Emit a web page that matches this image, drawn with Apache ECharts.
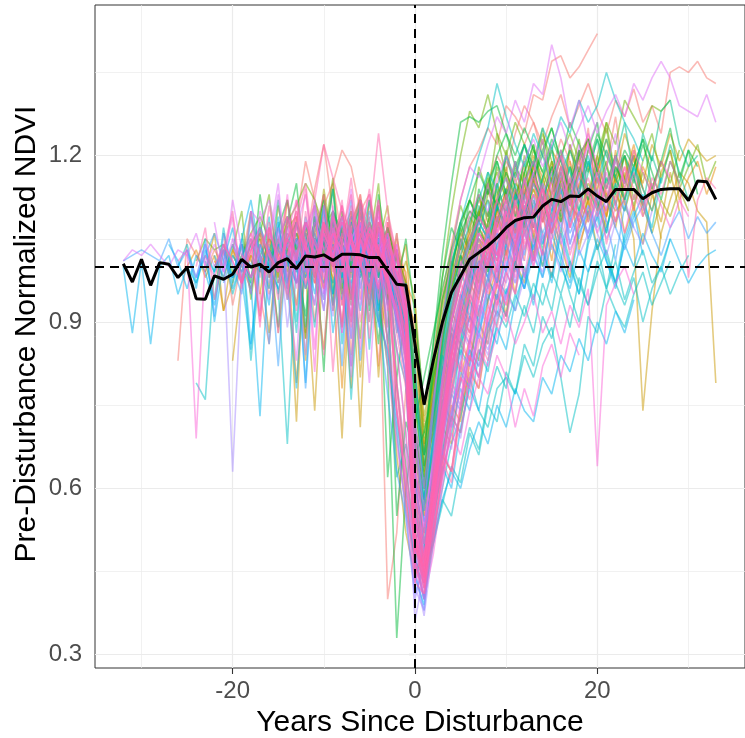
<!DOCTYPE html>
<html>
<head>
<meta charset="utf-8">
<script src="https://cdn.jsdelivr.net/npm/echarts@6/dist/echarts.min.js"></script>
<style>
  html, body { margin: 0; padding: 0; background: #fff; }
  #chart { width: 745px; height: 738px; }
</style>
</head>
<body>
<div id="chart"></div>
<script>
// tick positions
const xTicks = [-20, 0, 20];
const xMinorGrid = [-30, -10, 10, 30];
const yTicks = [0.3, 0.6, 0.9, 1.2];
const yMinorGrid = [0.45, 0.75, 1.05, 1.35];

// mean trajectory, years -32 .. 33
const meanStart = -32;
const meanNdvi = [1.005, 0.972, 1.013, 0.966, 1.007, 1.004, 0.980, 0.998, 0.942, 0.941,
  0.983, 0.977, 0.986, 1.013, 0.999, 1.004, 0.990, 1.007, 1.014, 0.996,
  1.019, 1.017, 1.021, 1.011, 1.022, 1.022, 1.021, 1.016, 1.016, 0.992,
  0.968, 0.966, 0.860, 0.751, 0.830, 0.899, 0.953, 0.983, 1.013, 1.025,
  1.037, 1.052, 1.070, 1.083, 1.088, 1.089, 1.109, 1.121, 1.117, 1.127,
  1.126, 1.140, 1.127, 1.117, 1.139, 1.139, 1.139, 1.122, 1.133, 1.139,
  1.140, 1.140, 1.119, 1.154, 1.153, 1.121];

// individual disturbance tracks: first year of each, then yearly values
const redStarts = [-26, -15, -20, -18, -14, -21, -7];
const redNdvi = [
  [0.83,1.05,1.02,0.99,1.03,1.00,1.04,0.97,1.02,1.06,1.01,1.04,1.00,1.08,1.19,1.12,1.05,1.03,1.07,1.02,0.98,1.04,1.02,0.40,0.52,0.78,
   0.70,0.66,0.84,0.95,1.04,1.12,1.18,1.21,1.25,1.22,1.29,1.27,1.24,1.31,1.30,1.37,1.38,1.34,1.36,1.39,1.42],
  [1.02,1.05,1.08,1.04,1.14,1.22,1.10,1.06,1.09,1.04,1.07,0.99,1.01,0.95,0.88,
   0.62,0.58,0.74,0.88,0.97,1.05,1.10,1.08,1.15,1.20,1.17,1.24,1.29,1.26,1.22,1.27,1.31,1.25,1.29,1.33,1.28,1.24,1.30,1.27,1.32,1.26,1.29,1.24,1.35,1.36,1.35,1.37,1.34,1.33],
  [1.00,0.97,1.03,1.05,0.99,1.02,1.06,1.04,1.08,1.01,1.11,1.15,1.21,1.18,1.10,1.13,1.04,1.02,0.96,0.90,
   0.58,0.52,0.70,0.84,0.93,1.00,1.06,1.03,1.10,1.08,1.14,1.12,1.18],
  [0.98,1.02,0.95,1.00,1.04,0.97,1.03,1.06,1.00,1.05,1.03,0.98,1.06,1.02,1.04,1.00,1.03,0.97,
   0.72,0.60,0.78,0.90,0.98,1.03,1.07,1.12,1.09,1.15,1.19,1.16,1.22,1.26,1.20,1.17,1.23,1.19,1.14,1.21,1.18,1.12,1.16],
  [0.96,1.09,0.88,1.04,1.13,0.97,1.06,0.84,1.10,1.02,0.93,1.08,0.99,0.91,
   0.62,0.55,0.61,0.70,0.78,0.86,0.83,0.92,0.98,0.94,1.03,1.08,1.01,1.12,1.06,0.98,1.10,1.15,1.04,1.09],
  [1.06,0.93,1.01,1.10,0.95,0.86,1.04,1.12,0.99,1.07,0.90,1.03,1.15,1.05,0.94,1.11,1.01,0.82,1.08,0.97,0.85,
   0.54,0.47,0.66,0.73,0.88,0.81,0.95,1.02,0.93,1.07,1.14,1.00,1.12,1.19,1.08,1.16,1.05,1.22,1.13,1.25,1.10,1.18,1.27,1.15],
  [1.08,0.94,1.12,1.01,0.89,1.05,0.98,
   0.88,0.64,0.72,0.82,0.79,0.93,0.90,1.01,0.96,1.08,1.04,0.99,1.11,1.07]
];
const orangeStarts = [-22, -10, -25, -18, -11, -13, -5];
const orangeNdvi = [
  [1.01,0.98,1.03,1.00,0.96,1.02,1.05,0.99,1.03,0.79,1.01,0.97,1.04,1.08,1.02,0.99,1.03,1.03,1.06,1.01,0.98,1.04,
   0.80,0.64,0.70,0.82,0.92,1.00,1.05,1.02,1.08,1.12,1.10,1.15,1.13,1.18,1.11,1.16,1.21,1.14,1.19,1.12,1.17,1.23,1.15,1.20,1.10,1.18,1.14,1.19],
  [1.03,1.00,1.06,1.02,0.98,1.05,1.01,1.07,1.02,0.99,
   0.66,0.55,0.68,0.80,0.90,0.97,1.01,1.05,1.03,1.09,1.06,1.11,1.08,1.14,1.10,1.16,1.12,1.09,1.15,1.18,1.13,1.10,1.16,1.12,1.20,1.14],
  [1.00,1.03,0.98,1.02,0.92,0.97,1.04,1.01,0.99,1.05,1.02,0.98,1.06,1.03,1.00,1.04,1.00,1.02,1.05,0.99,1.03,1.07,1.01,0.97,0.93,
   0.74,0.68,0.76,0.87,0.95,1.02,1.06,1.10,1.07,1.13,1.17,1.12,1.15,1.20,1.16,1.11,1.18,1.14,1.21],
  [1.02,0.91,1.07,0.98,1.12,1.03,0.87,1.05,0.96,1.09,1.00,0.78,1.06,0.95,1.11,1.02,0.90,0.97,
   0.93,0.66,0.71,0.78,0.86,0.92,0.88,0.99,1.05,0.97,1.08,1.03,1.14,1.06,1.10,1.01,1.13,1.19,1.07,1.12,1.16,1.09,1.21,1.11],
  [0.97,1.08,1.00,0.89,1.05,1.13,0.98,1.07,0.94,1.03,0.86,
   0.58,0.52,0.64,0.71,0.68,0.80,0.87,0.83,0.94,1.00,0.91,1.04,1.09,1.02,1.12,1.06],
  [1.04,0.83,1.09,0.97,1.06,0.78,1.02,1.10,0.94,1.05,0.99,0.74,0.58,
   0.47,0.52,0.60,0.67,0.75,0.72,0.83,0.90,0.86,0.97,1.03,0.95,1.08,1.02,1.12,1.06,1.15,1.09,1.18,1.11,1.20,1.13,1.08,1.16,1.22,1.14,1.10,1.17,1.21,1.12,1.16,1.19,1.13,1.18],
  [1.07,0.98,1.04,0.93,0.96,
   0.79,0.67,0.75,0.88,0.98,1.05,1.01,1.10,1.15,1.07,1.13,1.19,1.10,1.16,1.08,1.14,1.20,1.12,1.17,1.23,1.13,1.09,1.18,1.14,1.21,1.11]
];
const tanStarts = [-20, -12, -16, -23, -9, -17];
const tanNdvi = [
  [0.83,0.98,1.02,1.00,1.04,0.97,1.03,1.06,1.00,1.05,1.02,0.98,0.69,1.03,1.06,1.01,1.04,0.99,0.94,0.90,
   0.78,0.66,0.72,0.83,0.92,0.98,1.03,1.07,1.04,1.10,1.08,1.13,1.10,1.07,1.14,1.11,1.08,1.15,1.12,1.09,1.16,1.13,1.10,1.12,1.05,0.74,0.92,1.06,1.12,1.17,1.15,1.10,1.08,0.79],
  [1.01,1.04,0.99,1.06,1.02,1.08,1.03,1.00,1.05,1.02,0.97,0.95,
   0.85,0.72,0.79,0.88,0.96,1.01,1.05,1.09,1.12,1.08,1.14,1.17,1.13,1.19,1.15,1.21,1.18,1.14,1.20,1.23,1.17,1.21,1.16,1.24,1.19,1.15,1.22,1.18,1.24,1.19,1.23,1.21,1.19,1.20],
  [1.02,0.99,1.03,1.06,1.01,0.98,1.04,1.00,1.07,1.03,0.99,1.05,0.80,1.02,0.97,0.92,
   0.70,0.60,0.75,0.88,0.97,1.02,1.00,1.06,1.04,1.09],
  [0.99,1.06,0.92,1.03,0.97,1.10,1.01,0.88,1.05,0.96,1.08,0.99,0.74,1.04,1.09,0.95,1.02,0.71,1.06,0.98,1.03,0.93,0.97,
   0.81,0.63,0.70,0.77,0.85,0.91,0.97,0.94,1.04,1.10,1.02,1.08,1.15,1.05,1.11,1.19,1.08,1.14,1.03,1.10,1.17,1.12,1.07,1.16,1.20,1.09,1.14,1.05],
  [1.04,0.95,1.10,1.01,0.90,1.07,0.99,1.03,0.94,
   0.90,0.71,0.76,0.84,0.92,0.88,0.98,1.05,0.99,1.11,1.04,1.14,1.08,1.16,1.10],
  [0.95,1.06,0.88,1.02,0.72,1.08,0.99,0.85,1.04,0.93,1.07,0.80,1.01,0.96,0.87,0.66,0.52,
   0.44,0.49,0.58,0.66,0.63,0.74,0.81,0.78,0.89,0.95,0.91,1.01,0.97,1.06,1.00,1.09,1.04,0.98,1.07,1.12,1.03,1.09,1.15,1.06,1.11,1.04,1.13,1.08,1.17,1.10]
];
const oliveStarts = [-19, -8, -17, -6];
const oliveNdvi = [
  [1.00,1.04,1.06,0.98,1.03,1.07,1.09,1.02,1.05,1.00,1.08,1.04,1.01,1.06,1.03,0.99,1.05,1.02,0.96,
   0.82,0.70,0.78,0.90,1.00,1.06,1.03,1.10,1.14,1.08,1.12,1.16,1.10,1.14,1.08,1.13,1.17,1.11,1.09,1.15,1.12,1.07,1.13,1.10,1.16,1.11,1.06,1.12,1.09,1.14,1.10],
  [1.04,1.00,1.07,1.02,1.05,0.99,1.03,0.97,
   0.75,0.62,0.80,0.94,1.02,1.08,1.12,1.09,1.15,1.11,1.07,1.13,1.17,1.10,1.14,1.09,1.16,1.12,1.08,1.14,1.11],
  [1.05,0.96,1.11,1.02,0.93,1.08,1.00,1.14,1.04,0.89,1.07,0.99,1.12,1.03,0.95,1.06,0.92,
   0.80,0.68,0.77,0.88,0.96,1.04,0.99,1.10,1.06,1.15,1.09,1.02,1.13,1.18,1.10,1.06,1.16,1.12,1.21,1.08,1.14,1.19,1.11,1.17],
  [1.07,0.97,1.04,1.11,0.95,1.01,
   0.94,0.73,0.81,0.93,1.01,0.97,1.08,1.13,1.05,1.12,1.18,1.09,1.15,1.07]
];
const limeStarts = [-24, -15, -20, -12, -10];
const limeNdvi = [
  [1.01,1.05,1.03,1.04,0.99,1.02,1.06,1.09,1.05,1.03,1.08,1.11,1.15,1.12,1.07,1.10,1.04,1.09,1.06,1.02,1.05,1.00,0.97,0.93,
   0.70,0.60,0.82,0.98,1.10,1.20,1.28,1.25,1.31,1.24,1.20,1.26,1.22,1.18,1.24,1.19,1.15,1.21,1.17,1.12,1.18,1.14,1.20,1.16,1.11,1.17,1.13,1.19,1.15,1.21],
  [1.03,0.99,1.05,1.02,1.08,1.04,1.01,1.06,1.03,1.07,1.00,1.04,1.02,0.98,0.94,
   0.68,0.57,0.72,0.86,0.96,1.04,1.09,1.06,1.13,1.17,1.12,1.18,1.15,1.21,1.17,1.13,1.20,1.24,1.19,1.23,1.18,1.26,1.22,1.30,1.27,1.24,1.29,1.28,1.30],
  [1.03,1.10,0.94,1.06,1.13,0.98,1.09,1.02,0.87,1.11,1.05,1.16,0.97,1.08,1.12,1.01,0.90,1.07,0.99,0.88,
   0.57,0.50,0.63,0.78,0.90,1.02,0.97,1.09,1.16,1.10,1.21,1.14,1.07,1.19,1.25,1.15,1.10,1.22,1.17,1.13,1.20,1.26,1.16,1.12],
  [1.08,1.00,1.13,0.95,1.06,1.10,0.99,1.04,1.15,0.93,1.02,0.97,
   0.87,0.69,0.79,0.91,1.03,1.11,1.06,1.18,1.13,1.24,1.16,1.09,1.20,1.15,1.23,1.11,1.18],
  [1.05,0.93,1.10,1.01,0.87,1.08,0.98,1.04,0.95,0.90,
   0.75,0.62,0.76,0.89,0.99,1.07,1.02,1.13,1.08,1.18,1.12,1.06,1.17,1.22,1.14,1.19,1.10,1.16,1.23,1.13,1.18,1.25,1.15,1.20,1.12,1.19,1.24,1.16,1.21,1.14,1.18,1.22,1.15,1.19]
];
const greenStarts = [-20, -13, -10, -15, -16, -8, -3, -19];
const greenNdvi = [
  [1.02,0.99,1.04,1.07,1.01,1.05,1.09,1.03,1.06,1.00,1.04,1.08,1.02,1.05,0.99,1.03,0.95,0.82,0.33,0.60,
   0.72,0.80,0.88,0.96,1.03,1.08,1.12,1.17,1.13,1.20,1.24,1.18,1.22,1.16,1.21,1.25,1.19,1.14,1.20,1.23,1.17,1.12,1.18,1.15,1.20],
  [1.05,1.01,1.08,1.04,1.10,1.06,1.02,1.09,1.05,1.03,1.07,1.01,0.96,
   0.78,0.64,0.86,1.02,1.15,1.26,1.27,1.26,1.28,1.29,1.24,1.20,1.25,1.21,1.17,1.23,1.19,1.26,1.22,1.18,1.24,1.20,1.16,1.21,1.18,1.23,1.19],
  [1.03,1.07,1.00,1.05,1.02,1.08,1.04,0.62,0.80,0.92,
   0.76,0.66,0.82,0.94,1.01,1.06,1.10,1.08,1.14,1.11,1.17,1.13,1.09,1.15,1.12,1.18,1.14],
  [1.00,1.04,1.08,1.02,1.06,1.12,1.05,1.09,1.03,1.07,1.01,1.05,1.02,0.97,0.91,
   0.70,0.58,0.76,0.90,1.00,1.07,1.12,1.08,1.15,1.19,1.13,1.17,1.22,1.16,1.20,1.25,1.19,1.14,1.21,1.17,1.23,1.18,1.13,1.20,1.16,1.22,1.17,1.12,1.19,1.15,1.21,1.18],
  [0.98,1.07,1.12,1.01,0.91,1.09,1.04,1.14,0.96,1.06,1.11,0.99,1.08,0.94,1.03,0.84,
   0.62,0.56,0.74,0.86,0.99,1.08,1.03,1.14,1.09,1.19,1.13,1.06,1.17,1.22,1.12,1.18,1.09,1.15,1.21],
  [1.10,0.99,1.06,0.92,1.13,1.02,0.96,1.05,
   0.91,0.75,0.86,0.98,1.07,1.03,1.12,1.08,1.17,1.10,1.20,1.14,1.07,1.16],
  [0.97,0.55,0.72,
   0.66,0.70,0.80,0.88,0.95,1.02,0.98,1.07,1.03,1.11,1.06],
  [1.06,0.97,1.13,1.02,0.89,1.08,1.15,0.99,1.05,0.81,1.10,1.03,0.94,1.12,1.01,0.86,1.07,0.79,0.64,
   0.50,0.57,0.66,0.75,0.84,0.93,1.01,0.97,1.08,1.14,1.05,1.12,1.19,1.09,1.16,1.22,1.11,1.18,1.13,1.21,1.26,1.15,1.20,1.12,1.18,1.23,1.14,1.19,1.25,1.16,1.21,1.13]
];
const seaStarts = [-11, -17, -19, -10, -4, -7];
const seaNdvi = [
  [1.02,1.06,1.01,1.04,1.08,1.03,1.00,1.05,1.02,0.97,0.94,
   0.80,0.66,0.74,0.85,0.94,1.00,1.05,1.09,1.06,1.12,1.16,1.11,1.15,1.19,1.14,1.10,1.17,1.21,1.16,1.12,1.18,1.23,1.17,1.20,1.15,1.24,1.19,1.28,1.30,1.22,1.18,1.20],
  [0.99,1.03,1.00,1.05,1.02,0.98,1.04,1.07,1.01,1.05,1.03,0.99,1.06,1.02,1.04,0.98,0.88,
   0.55,0.48,0.62,0.78,0.90,0.98,1.04,1.08,1.05,1.11,1.14,1.09,1.13,1.17,1.12,1.08,1.15,1.11,1.18,1.14,1.10,1.16,1.13],
  [1.04,0.95,1.08,1.00,1.12,0.97,1.05,0.89,1.09,1.02,1.14,0.99,0.93,1.07,1.01,1.11,0.96,1.03,0.90,
   0.68,0.58,0.67,0.79,0.88,0.84,0.95,1.03,0.98,1.09,1.04,1.13,1.07,1.01,1.12,1.17,1.08,1.14,1.10,1.19,1.12,1.06,1.15],
  [1.01,1.09,0.94,1.05,1.12,0.98,1.07,0.86,1.02,0.95,
   0.76,0.61,0.72,0.84,0.80,0.91,0.99,0.95,1.06,1.01,1.11,1.05,1.16,1.09,1.03,1.13],
  [1.03,0.93,0.62,0.68,
   0.59,0.64,0.73,0.81,0.89,0.86,0.96,1.03,0.99,1.08],
  [1.03,1.11,0.96,1.07,1.01,0.94,0.89,
   0.72,0.60,0.73,0.86,0.97,1.05,1.00,1.11,1.06,1.15,1.09,1.19,1.12,1.07,1.16,1.21,1.13,1.18,1.10,1.17,1.23,1.14,1.19,1.26,1.16,1.11,1.20,1.15,1.22,1.17,1.12]
];
const cyanStarts = [-26, -24, -14, -6, -23, -15, -7, -12, -9];
const cyanNdvi = [
  [1.00,1.04,0.97,1.02,0.99,1.03,0.95,1.01,0.98,1.04,1.00,0.96,0.68,1.02,0.99,1.05,1.01,0.97,1.03,0.99,1.04,1.00,0.96,1.01,0.93,0.85,
   0.50,0.44,0.52,0.60,0.68,0.73,0.80,0.74,0.71,0.78,0.80,0.77,0.84,0.80,0.86,0.89,0.80,0.70,0.77,0.91,0.88,0.96,0.92,0.89,0.95,0.99,0.93,0.97,1.01],
  [0.79,0.76,1.00,1.03,0.98,1.02,1.05,0.99,1.03,1.07,1.01,0.97,1.04,1.00,1.06,1.02,0.98,1.05,1.01,1.04,0.99,1.02,0.96,0.90,
   0.62,0.50,0.58,0.66,0.74,0.79,0.85,0.82,0.88,0.92,0.89,0.95,0.91,0.97,0.93,0.99,0.95,1.01,0.97,0.93,0.99,1.03,0.97,0.93,0.98,0.90,0.96,1.00,0.95,0.99,1.02],
  [1.01,1.05,1.02,1.08,1.04,1.00,1.06,1.03,1.09,1.05,1.01,1.04,0.98,0.92,
   0.66,0.56,0.75,0.90,1.00,1.08,1.14,1.20,1.25,1.33,1.27,1.22,1.18,1.24,1.20,1.15,1.21,1.17,1.13,1.19,1.15,1.21,1.16,1.12,1.18,1.14,1.10,1.16],
  [1.04,1.01,1.06,1.02,0.97,0.90,
   0.60,0.52,0.70,0.84,0.95,1.02,1.08,1.12,1.17,1.14,1.20,1.16,1.22,1.18,1.25,1.21,1.27,1.24,1.30,1.26,1.29,1.35,1.30,1.26,1.23,1.19],
  [1.01,0.94,1.07,0.97,1.04,0.83,1.00,1.09,0.95,1.03,0.88,1.06,0.98,1.11,0.92,1.02,0.96,1.08,0.85,1.04,0.99,0.93,0.87,
   0.52,0.45,0.50,0.57,0.64,0.61,0.70,0.66,0.75,0.72,0.81,0.77,0.86,0.82,0.91,0.87,0.95,0.89,0.98,0.93,1.01,0.96,1.04],
  [0.97,1.05,0.90,1.08,1.00,0.94,1.10,0.86,1.03,0.98,1.07,0.92,1.04,0.96,0.89,
   0.63,0.54,0.58,0.66,0.73,0.70,0.79,0.85,0.81,0.90,0.96,0.92,1.00,0.94,1.03,0.98,1.07,1.01,0.95,1.05,1.10,1.02,0.97,1.06],
  [0.99,1.08,0.93,1.04,0.97,0.85,0.79,
   0.56,0.49,0.62,0.76,0.72,0.87,0.94,0.90,1.01,0.97,1.08,1.03],
  [1.01,0.89,1.07,0.95,1.04,0.76,1.00,1.09,0.92,0.84,0.70,0.56,
   0.47,0.44,0.51,0.58,0.55,0.64,0.71,0.67,0.76,0.82,0.78,0.87,0.93,0.88,0.97,0.92,1.01,0.95,0.90,0.99,1.04,0.96,1.01,0.94,0.99,1.03,0.97,1.00,1.05],
  [1.00,1.08,0.95,1.04,1.12,0.98,1.06,0.93,0.87,
   0.68,0.57,0.69,0.81,0.92,0.99,0.95,1.06,1.12,1.03,1.09,1.15,1.07,1.13,1.04,1.10,1.17,1.08,1.14,1.20,1.11,1.06,1.15,1.10,1.18,1.12,1.07,1.16]
];
const skyStarts = [-32, -27, -22, -11, -25, -13, -5, -20];
const skyNdvi = [
  [1.00,0.88,1.01,0.86,1.00,1.02,0.95,1.00,0.97,1.03,0.99,1.04,0.96,1.01,0.98,1.03,1.00,0.96,1.02,0.99,1.05,1.01,0.97,1.03,1.00,1.04,0.98,1.02,1.06,1.00,0.94,0.86,
   0.58,0.46,0.62,0.76,0.86,0.93,0.98,1.03,1.00,1.06,1.04],
  [1.04,1.01,0.96,1.02,0.99,0.93,1.03,0.98,1.05,1.12,1.02,0.99,1.04,1.01,0.97,1.03,1.00,1.06,1.02,0.98,1.04,1.01,0.97,1.03,0.99,0.94,0.88,
   0.55,0.45,0.58,0.70,0.80,0.86,0.91,0.88,0.94,0.98,0.95,1.00,0.96,1.02,0.98,1.04,1.00,0.96,1.03,0.99,1.05,1.01,0.97,1.04,1.00,1.06,1.02,0.99,1.05,1.01,0.97,1.00,1.02,1.03],
  [1.02,0.98,1.04,1.00,0.97,0.73,1.03,0.99,1.05,1.01,0.96,1.02,0.99,1.04,1.00,0.97,1.03,0.99,1.02,0.96,0.91,0.84,
   0.48,0.40,0.50,0.58,0.63,0.60,0.67,0.72,0.68,0.75,0.71,0.78,0.74,0.72,0.80,0.77,0.84,0.81,0.87,0.83,0.90,0.86,0.92,0.88,0.94],
  [1.04,1.00,1.06,1.02,1.08,1.03,0.99,1.05,1.01,0.96,0.89,
   0.54,0.47,0.66,0.82,0.93,1.00,1.04,1.08,1.05,1.11,1.07,1.13,1.09,1.15,1.11],
  [1.03,0.96,1.05,0.90,1.01,1.07,0.98,0.85,1.04,0.99,1.09,0.94,1.02,0.79,1.06,1.00,0.95,1.08,1.01,0.92,1.05,0.98,1.03,0.91,0.84,
   0.49,0.43,0.55,0.64,0.60,0.71,0.78,0.74,0.83,0.89,0.85,0.94,0.99,0.93,1.03,0.97,1.06,1.00,0.95,1.04,1.09,1.01,0.96,1.05,1.10,1.02],
  [1.06,0.96,1.02,1.11,0.93,1.04,0.87,1.08,1.00,0.95,1.05,0.90,0.80,
   0.44,0.39,0.52,0.66,0.77,0.85,0.82,0.92,0.98,0.94,1.04,1.00,1.09,1.03,1.12,1.06,1.01,1.10],
  [1.02,0.92,1.06,0.88,0.97,
   0.82,0.58,0.68,0.79,0.88,0.95,0.91,1.00,1.06,0.99,1.04],
  [0.98,1.05,0.86,1.01,0.93,1.08,0.97,0.78,1.03,0.95,1.06,0.88,1.00,0.82,1.04,0.96,0.90,0.85,0.72,0.60,
   0.46,0.43,0.55,0.63,0.70,0.78,0.74,0.84,0.90,0.86,0.95,1.01,0.96,1.05,1.00,1.08,1.02,0.97,1.06,1.10,1.03,1.07,1.12,1.04,1.09,1.13,1.06]
];
const blueStarts = [-32, -21, -16, -9, -5, -24, -14, -10, -8];
const blueNdvi = [
  [1.01,1.02,1.03,1.02,1.01,1.05,1.00,1.03,0.98,1.02,1.06,1.01,0.98,1.04,1.00,1.07,1.03,0.99,1.05,1.02,0.98,1.04,1.01,1.06,1.03,0.99,1.05,1.02,0.97,1.03,0.98,0.93,
   0.62,0.48,0.64,0.80,0.90,0.97,1.02,0.99,1.05,1.02,1.07,1.04,1.09],
  [0.97,1.02,0.99,1.04,1.01,0.96,1.03,1.00,1.05,0.78,1.02,0.99,1.04,1.01,1.06,1.03,0.99,1.02,0.97,0.92,0.86,
   0.56,0.44,0.60,0.74,0.84,0.92,0.97,1.01,0.98,1.04,1.07,1.02,1.06,1.09,1.04,1.08,1.11,1.06,1.10,1.05,1.09,1.12,1.07,1.03,1.08,1.11,1.06,1.02,1.07,1.10,1.05,1.09,1.06,1.08],
  [1.03,0.82,1.06,1.02,1.08,1.04,1.00,1.06,1.02,1.09,1.05,1.01,1.04,0.98,0.90,0.80,
   0.52,0.42,0.56,0.70,0.82,0.90,0.96,1.01,0.98,1.04,1.08,1.03,1.07,1.11,1.06,1.10,1.14,1.09,1.05,1.11,1.07],
  [1.05,1.01,1.07,1.03,1.10,1.04,1.00,0.95,0.88,
   0.45,0.38,0.55,0.72,0.85,0.94,1.00,1.05,1.02,1.08,1.12,1.07,1.13,1.09,1.15,1.11,1.07,1.13,1.16],
  [1.02,1.06,1.01,0.95,0.86,
   0.48,0.40,0.58,0.74,0.86,0.94,0.99,1.04,1.01,1.06,1.03],
  [0.98,1.04,0.91,1.06,1.00,0.95,1.09,1.02,0.86,1.05,0.97,1.08,1.01,0.93,1.10,1.03,0.82,1.06,0.99,1.04,0.94,1.02,0.90,0.83,
   0.47,0.40,0.53,0.68,0.80,0.89,0.86,0.96,1.02,0.97,1.07,1.01,1.11,1.05,0.98,1.09,1.14,1.04,1.10,1.06,1.13,1.08,1.01,1.11,1.07],
  [1.04,0.97,1.09,1.02,0.92,1.07,1.00,1.12,0.96,1.05,0.89,1.03,0.98,0.92,
   0.61,0.50,0.63,0.74,0.71,0.83,0.91,0.87,0.97,1.03,0.99,1.08,1.02,1.12,1.05,1.09],
  [0.95,1.06,1.01,0.90,1.08,0.97,1.04,0.93,1.00,0.96,
   0.70,0.54,0.60,0.69,0.77,0.74,0.85,0.80,0.89,0.95,0.91,1.00,0.96,1.04],
  [0.94,1.06,0.83,1.00,0.91,0.77,0.63,0.55,
   0.41,0.46,0.56,0.65,0.73,0.81,0.78,0.89,0.95,0.91,1.00,1.06,0.98,1.04]
];
const periStarts = [-25, -12, -7, -20, -9, -15];
const periNdvi = [
  [1.02,0.98,1.04,1.00,1.03,0.63,0.99,1.05,1.01,0.97,1.03,1.07,1.02,0.99,1.05,1.01,1.06,1.03,0.98,1.04,1.00,1.05,0.97,0.85,0.70,
   0.36,0.45,0.60,0.72,0.82,0.88,0.93,0.90,0.96,1.00,0.97,1.03,1.06,1.01,1.05,1.09,1.04,1.08,1.02,1.06,1.10,1.05,1.09],
  [1.04,1.00,1.06,1.02,0.97,1.03,1.08,1.04,1.00,1.05,0.99,0.94,
   0.60,0.50,0.62,0.74,0.80,0.84,0.82,0.88,0.85,0.91,0.95,0.92,0.98,1.02,0.99,1.05,1.08,1.03,1.07,1.11,1.06,1.02,1.08,1.12,1.07,1.04,1.10],
  [1.03,1.07,1.02,1.05,0.98,0.91,0.84,
   0.42,0.38,0.55,0.70,0.82,0.90,0.95,0.92,0.98,1.03,0.99,1.05,1.01],
  [1.05,0.97,1.10,1.01,0.94,1.07,0.89,1.03,0.99,1.12,0.95,1.06,1.01,0.91,1.08,1.02,0.96,1.04,0.93,0.87,
   0.58,0.48,0.56,0.65,0.74,0.82,0.79,0.90,0.86,0.95,1.01,0.97,1.06,1.02,1.10,1.04,0.99,1.08,1.13,1.05],
  [1.02,1.09,0.96,1.05,0.90,1.07,0.99,1.03,0.88,
   0.45,0.37,0.50,0.62,0.72,0.69,0.80,0.88,0.84,0.93,0.99,0.95,1.04],
  [1.07,0.96,1.03,0.84,1.10,0.99,0.91,1.05,0.80,1.01,0.94,1.08,0.86,0.70,0.55,
   0.40,0.47,0.57,0.68,0.78,0.75,0.86,0.93,0.89,0.99,1.05,0.97,1.03,1.09,1.01,1.07,1.12,1.04,1.10,1.06,1.14,1.08]
];
const violetStarts = [-32, -18, -10, -22, -12, -4, -18];
const violetNdvi = [
  [1.01,1.03,1.02,1.04,1.02,1.00,1.03,1.02,1.06,1.00,1.04,0.99,1.05,1.02,0.98,1.03,1.07,1.01,1.04,1.00,0.97,1.03,0.99,1.05,1.08,1.02,1.06,1.03,1.00,1.04,0.97,0.92,
   0.64,0.52,0.66,0.80,0.90,0.97,1.02,1.06,1.03],
  [1.10,1.08,1.12,1.05,1.09,1.04,1.07,1.11,1.03,1.06,1.01,1.05,1.08,1.02,1.04,0.99,1.01,0.95,
   0.70,0.56,0.74,0.90,1.02,1.12,1.18,1.16,1.22,1.27,1.24,1.30,1.26,1.33,1.31,1.40,1.34,1.25,1.30,1.22,1.26],
  [1.06,1.02,1.09,1.04,1.00,1.07,1.03,1.05,0.98,0.93,
   0.72,0.60,0.76,0.88,0.97,1.04,1.09,1.13,1.10,1.16,1.20,1.15,1.19,1.23,1.18,1.22,1.26,1.21,1.25,1.29,1.24,1.28,1.31,1.27,1.33,1.30,1.34,1.37,1.34,1.29,1.28,1.27,1.31,1.26],
  [1.08,0.99,1.12,1.03,0.95,1.10,1.05,1.15,0.98,1.07,1.13,1.01,0.92,1.09,1.04,0.87,1.11,1.02,0.96,1.06,0.99,0.91,
   0.64,0.53,0.65,0.78,0.90,1.01,0.96,1.08,1.15,1.06,1.12,1.19,1.10,1.17,1.23,1.13,1.20,1.09,1.16,1.22,1.12,1.18,1.24,1.14,1.20],
  [1.03,1.11,0.95,1.07,1.00,1.14,0.93,1.05,1.10,0.98,1.04,0.90,
   0.55,0.46,0.58,0.70,0.67,0.79,0.86,0.82,0.92,0.98,0.94,1.03,1.09,1.00,1.06],
  [1.09,1.01,0.95,0.86,
   0.47,0.41,0.56,0.71,0.84,0.93,1.00,0.96,1.07,1.02,1.10],
  [1.10,0.92,1.04,1.13,0.97,0.83,1.08,1.01,0.94,1.11,0.88,1.06,0.98,0.79,1.03,0.90,0.74,0.60,
   0.48,0.54,0.64,0.74,0.84,0.92,0.88,0.99,1.06,1.00,1.11,1.05,1.16,1.09,1.14,1.07,1.18,1.11,1.22,1.13,1.17,1.10,1.20,1.15]
];
const magentaStarts = [-26, -20, -14, -8, -13, -21, -15, -11, -6, -16, -9];
const magentaNdvi = [
  [1.01,1.03,0.69,1.02,0.98,1.04,1.01,0.97,1.03,1.07,1.02,0.99,1.05,1.01,1.08,1.04,1.00,1.06,1.03,0.99,1.05,1.02,1.06,0.98,0.92,0.85,
   0.55,0.43,0.58,0.72,0.84,0.92,0.98,1.03,1.00,1.06,1.10,1.05,1.09,1.13,1.08,1.12,1.16,1.10,1.14,1.08,1.12,1.17,1.11,1.06,1.13,1.09,1.15,1.11,1.07,1.12,1.09],
  [1.04,1.00,1.06,1.02,0.98,1.05,1.01,1.08,1.03,1.00,1.06,1.02,0.99,1.05,1.01,1.07,1.03,0.98,0.90,0.80,
   0.50,0.42,0.55,0.66,0.74,0.80,0.78,0.85,0.82,0.88,0.92,0.86,0.90,0.95,0.88,0.92,0.86,0.93,0.89,0.96,0.64,0.93,0.97,1.00,0.95],
  [1.02,1.07,1.03,0.99,1.05,1.01,1.08,1.04,1.00,1.06,1.02,0.97,0.91,0.84,
   0.48,0.43,0.52,0.62,0.70,0.66,0.74,0.80,0.77,0.84,0.80,0.71,0.78,0.73,0.82,0.86,0.80,0.88,0.84],
  [1.05,1.01,1.07,1.03,1.09,1.04,0.99,0.93,
   0.52,0.45,0.62,0.78,0.90,0.98,1.04,1.09,1.06,1.12,1.16,1.11,1.15,1.19,1.13,1.17,1.21,1.15,1.19,1.24,1.18,1.14,1.20],
  [1.05,1.01,1.08,1.03,1.00,1.06,1.02,1.09,1.04,1.00,1.06,0.99,0.93,
   0.62,0.48,0.60,0.74,0.86,0.95,1.01,1.06,1.03,1.09,1.13,1.08,1.12,1.17,1.11,1.15,1.20,1.14,1.18,1.22,1.16,1.12,1.19,1.15,1.21,1.17,1.13,1.19,1.16],
  [1.02,1.09,0.96,1.05,0.90,1.07,1.00,1.13,0.97,1.04,0.85,1.08,1.01,1.11,0.94,1.05,0.99,1.10,0.92,1.03,0.89,
   0.51,0.44,0.55,0.67,0.63,0.76,0.84,0.80,0.91,0.97,0.93,1.03,0.98,1.08,1.02,1.12,1.05,0.99,1.09,1.14,1.06,1.11],
  [0.97,1.06,1.12,1.00,0.93,1.08,1.03,0.88,1.10,1.01,0.96,1.07,0.98,0.92,0.85,
   0.46,0.40,0.48,0.60,0.72,0.83,0.79,0.90,0.97,0.93,1.02,0.98,1.07,1.01,1.11,1.04],
  [1.05,0.98,1.10,1.02,0.91,1.06,1.13,1.00,0.95,1.04,0.81,
   0.52,0.45,0.57,0.69,0.81,0.90,0.86,0.96,1.03,0.99,1.09,1.04,1.12,1.07],
  [1.01,1.08,0.94,1.03,0.74,0.62,
   0.49,0.52,0.61,0.73,0.85,0.93,0.89,0.99,1.05,1.01,1.10],
  [1.02,0.88,1.09,0.96,1.05,0.81,1.11,1.00,0.93,1.07,0.85,1.03,0.97,0.82,0.68,0.57,
   0.43,0.48,0.58,0.69,0.79,0.76,0.87,0.94,0.90,1.00,1.07,1.01,1.10,1.04,1.13,1.06,1.11,1.16,1.08],
  [1.09,0.95,0.82,1.05,0.99,1.12,0.93,0.79,0.66,
   0.55,0.47,0.59,0.70,0.81,0.89,0.85,0.95,1.02,0.98,1.07,1.03,1.10]
];
const pinkStarts = [-22, -16, -12, -6, -19, -9, -24, -18, -14, -10, -8, -5, -16, -3, -14, -11, -7];
const pinkNdvi = [
  [1.00,1.04,1.01,0.97,1.03,1.06,1.02,0.99,1.05,1.02,1.08,1.04,1.01,1.06,1.03,0.99,1.05,1.08,1.03,1.00,0.95,0.88,
   0.56,0.46,0.64,0.80,0.92,1.00,1.05,1.09,1.06,1.12,1.08,1.14,1.10,1.16,1.12,1.08,1.15,1.11,1.17,1.13,1.09,1.15,1.12,1.18,1.14,1.10,1.16,1.13,1.19,1.15,0.98,1.12,1.16,1.14],
  [1.03,0.99,1.05,1.10,1.04,1.00,1.07,1.03,1.09,1.05,1.01,1.06,1.02,0.98,0.92,0.82,
   0.46,0.41,0.50,0.64,0.78,0.88,0.95,1.00,1.04,1.01,1.07,1.11,1.06,1.10,1.14,1.09,1.13,1.07,1.12,1.16,1.10,1.14,1.08,1.13,1.17,1.11,1.15],
  [1.06,1.02,1.08,1.04,1.11,1.05,1.01,1.07,1.03,1.09,1.02,0.96,
   0.60,0.44,0.58,0.72,0.84,0.93,0.99,1.04,1.01,1.08,1.12,1.06,1.10,1.15,1.09,1.13,1.18,1.12,1.08,1.14,1.11],
  [1.06,1.02,1.08,1.04,0.99,0.94,
   0.58,0.47,0.62,0.78,0.90,0.97,1.02,1.06,1.03,1.09,1.05,1.11,1.07,1.13,1.10],
  [1.02,0.98,1.04,1.07,1.01,1.05,1.09,1.03,1.12,1.22,1.16,1.10,1.06,1.12,1.08,1.24,1.10,1.02,0.90,
   0.50,0.42,0.56,0.70,0.82,0.90,0.96,1.00,1.05,1.02,1.08,1.04,1.10,1.06,1.12,1.08,1.14],
  [1.03,1.08,1.04,1.00,1.06,1.02,0.97,0.88,0.78,
   0.50,0.45,0.60,0.75,0.87,0.95,1.00,1.05,1.02,1.08,1.04,1.10,1.06],
  [1.00,1.07,0.94,1.03,1.10,0.97,1.05,0.89,1.08,1.01,0.95,1.12,1.04,0.98,1.09,0.92,1.06,1.13,1.00,0.96,1.07,1.02,0.93,0.86,
   0.50,0.43,0.57,0.70,0.82,0.91,0.87,0.98,1.05,1.00,1.10,1.04,1.14,1.08,1.02,1.12,1.17,1.07,1.13,1.09,1.16,1.04,1.11,1.18,1.10],
  [1.06,0.98,1.11,1.02,0.94,1.08,1.15,1.01,0.96,1.09,1.04,0.90,1.12,1.05,0.99,1.07,0.95,0.88,
   0.47,0.42,0.51,0.63,0.76,0.87,0.83,0.94,1.01,0.96,1.06,1.12,1.03,1.09,1.15,1.06,1.11,1.02,1.08],
  [1.02,1.10,0.96,1.06,1.13,0.99,1.04,1.16,1.01,0.93,1.08,1.03,0.97,0.90,
   0.52,0.44,0.53,0.65,0.61,0.74,0.82,0.78,0.88,0.94,0.90,1.00,1.06,1.01,1.10],
  [1.08,1.00,1.12,0.95,1.05,1.14,1.02,0.97,1.06,0.92,
   0.43,0.41,0.55,0.68,0.80,0.89,0.95,0.91,1.01,1.07,1.02,1.12],
  [0.99,1.07,1.13,1.02,0.96,1.08,1.01,0.94,
   0.66,0.46,0.60,0.73,0.85,0.81,0.93,0.99,0.95,1.05,1.01,1.09,1.04],
  [1.04,1.12,0.98,0.79,0.58,
   0.45,0.48,0.59,0.72,0.84,0.92,0.88,0.97,1.03,0.99],
  [1.03,0.94,1.09,1.01,1.14,0.97,1.06,1.02,0.90,1.11,1.05,0.99,1.08,1.03,0.96,0.91,
   0.70,0.50,0.58,0.70,0.83,0.94,0.90,1.01,1.07,1.02,1.12,1.06,1.16,1.09,1.14,1.05,1.12],
  [1.05,0.98,0.83,
   0.54,0.45,0.61,0.76,0.88,0.97,0.93,1.04,1.00,1.08],
  [1.05,0.92,1.10,0.99,0.84,1.07,1.01,0.89,1.12,0.95,1.03,0.86,0.74,0.61,
   0.49,0.46,0.55,0.64,0.73,0.70,0.80,0.87,0.83,0.93,0.99,0.95,1.05,1.00,1.09,1.03],
  [0.97,1.08,0.81,1.02,0.93,1.10,0.87,1.04,0.96,0.78,0.63,
   0.52,0.44,0.52,0.62,0.71,0.80,0.76,0.86,0.93,0.89,0.98,1.04,0.99],
  [1.06,0.90,1.02,1.11,0.97,0.85,0.70,
   0.51,0.43,0.54,0.66,0.63,0.75,0.84,0.80,0.91,0.97,0.93,1.02]
];

// hue palette, drawn in this order (pink ends up on top)
const groups = [
  { color: '#F8766D', starts: redStarts, ndvi: redNdvi },
  { color: '#E58700', starts: orangeStarts, ndvi: orangeNdvi },
  { color: '#C99800', starts: tanStarts, ndvi: tanNdvi },
  { color: '#A3A500', starts: oliveStarts, ndvi: oliveNdvi },
  { color: '#6BB100', starts: limeStarts, ndvi: limeNdvi },
  { color: '#00BA38', starts: greenStarts, ndvi: greenNdvi },
  { color: '#00C08B', starts: seaStarts, ndvi: seaNdvi },
  { color: '#00BFC4', starts: cyanStarts, ndvi: cyanNdvi },
  { color: '#00B4EF', starts: skyStarts, ndvi: skyNdvi },
  { color: '#35A2FF', starts: blueStarts, ndvi: blueNdvi },
  { color: '#A58AFF', starts: periStarts, ndvi: periNdvi },
  { color: '#DF70F8', starts: violetStarts, ndvi: violetNdvi },
  { color: '#FB61D7', starts: magentaStarts, ndvi: magentaNdvi },
  { color: '#FF65AC', starts: pinkStarts, ndvi: pinkNdvi }
];

const FONT = '"Liberation Sans", Arial, Helvetica, sans-serif';
const GRID_COL = '#EBEBEB';

const series = [];

// grid lines (major + minor) drawn under everything
const gridMarks = [];
xTicks.forEach(v => gridMarks.push({ xAxis: v, lineStyle: { color: GRID_COL, width: 1.2, type: 'solid' } }));
xMinorGrid.forEach(v => gridMarks.push({ xAxis: v, lineStyle: { color: GRID_COL, width: 0.7, type: 'solid' } }));
yTicks.forEach(v => gridMarks.push({ yAxis: v, lineStyle: { color: GRID_COL, width: 1.2, type: 'solid' } }));
yMinorGrid.forEach(v => gridMarks.push({ yAxis: v, lineStyle: { color: GRID_COL, width: 0.7, type: 'solid' } }));
series.push({
  type: 'line', data: [], silent: true, z: 1,
  markLine: { z: 1, symbol: 'none', silent: true, animation: false, label: { show: false }, data: gridMarks }
});

groups.forEach(g => {
  g.starts.forEach((start, k) => {
    series.push({
      type: 'line',
      data: g.ndvi[k].map((v, i) => [start + i, v]),
      symbol: 'none',
      silent: true,
      z: 2,
      lineStyle: { color: g.color, width: 1.6, opacity: 0.5 }
    });
  });
});

// reference lines at disturbance year and NDVI = 1
series.push({
  type: 'line', data: [], silent: true, z: 3,
  markLine: {
    z: 3, symbol: 'none', silent: true, animation: false, label: { show: false },
    lineStyle: { color: '#000', width: 2, type: [9, 6] },
    data: [{ xAxis: 0 }, { yAxis: 1.0 }]
  }
});

series.push({
  type: 'line',
  data: meanNdvi.map((v, i) => [meanStart + i, v]),
  symbol: 'none',
  silent: true,
  z: 4,
  lineStyle: { color: '#000', width: 3 }
});

const chart = echarts.init(document.getElementById('chart'), null, { renderer: 'canvas' });
chart.setOption({
  animation: false,
  backgroundColor: '#fff',
  grid: { left: 95, top: 5, width: 650, height: 663, show: true, borderColor: '#333', borderWidth: 1, backgroundColor: '#fff' },
  xAxis: {
    type: 'value', min: -35.1, max: 36.2,
    axisLine: { show: false },
    splitLine: { show: false },
    axisTick: { show: true, customValues: xTicks, length: 6, lineStyle: { color: '#333', width: 1.1 } },
    axisLabel: { customValues: xTicks, color: '#4D4D4D', fontSize: 24, margin: 11, fontFamily: FONT }
  },
  yAxis: {
    type: 'value', min: 0.276, max: 1.4715,
    axisLine: { show: false },
    splitLine: { show: false },
    axisTick: { show: true, customValues: yTicks, length: 6, lineStyle: { color: '#333', width: 1.1 } },
    axisLabel: { customValues: yTicks, color: '#4D4D4D', fontSize: 24, margin: 13, fontFamily: FONT,
      formatter: v => v.toFixed(1) }
  },
  graphic: [
    { type: 'text', x: 420, y: 723,
      style: { text: 'Years Since Disturbance', fontSize: 30, fontFamily: FONT, fill: '#000', textAlign: 'center', textVerticalAlign: 'middle' } },
    { type: 'text', x: 27, y: 334, rotation: Math.PI / 2,
      style: { text: 'Pre-Disturbance Normalized NDVI', fontSize: 30, fontFamily: FONT, fill: '#000', textAlign: 'center', textVerticalAlign: 'middle' } }
  ],
  series: series
});
</script>
</body>
</html>
